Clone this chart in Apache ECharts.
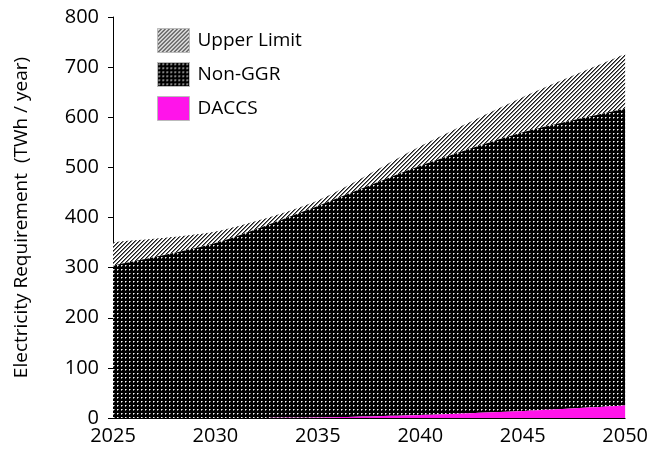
<!DOCTYPE html>
<html>
<head>
<meta charset="utf-8">
<script src="https://cdn.jsdelivr.net/npm/echarts@6/dist/echarts.min.js"></script>
<style>
  html, body { margin: 0; padding: 0; background: #fff; }
  #chart { width: 651px; height: 452px; }
</style>
</head>
<body>
<div id="chart"></div>
<script>
// Chart data
const years = ['2025', '2030', '2035', '2040', '2045', '2050']
const daccs = [0, 0, 1, 6, 14, 25]
const nonGgr = [304, 349, 422, 497, 556, 592]
const upperLimit = [47, 23, 11, 39, 70, 109]

// Fill patterns
const makeDots = () => {
  const c = document.createElement('canvas')
  c.width = 4
  c.height = 4
  const ctx = c.getContext('2d')
  ctx.fillStyle = '#000'
  ctx.fillRect(0, 0, 4, 4)
  ctx.fillStyle = '#fff'
  ctx.fillRect(1, 1, 1, 1)
  ctx.fillStyle = '#888'
  ctx.fillRect(2, 1, 1, 1)
  ctx.fillRect(1, 2, 1, 1)
  return c
}

const makeHatch = () => {
  const c = document.createElement('canvas')
  c.width = 4
  c.height = 4
  const ctx = c.getContext('2d')
  ctx.fillStyle = '#fff'
  ctx.fillRect(0, 0, 4, 4)
  ctx.fillStyle = '#1a1a1a'
  for (let i = 0; i < 4; i++) {
    ctx.fillRect(3 - i, i, 1, 1)
  }
  ctx.fillStyle = '#777'
  for (let i = 0; i < 4; i++) {
    ctx.fillRect((4 - i) % 4, i, 1, 1)
  }
  return c
}

const dotFill = { image: makeDots(), repeat: 'repeat' }
const hatchFill = { image: makeHatch(), repeat: 'repeat' }
const font = '"Open Sans", "Noto Sans", sans-serif'

const chart = echarts.init(document.getElementById('chart'))

const areaSeries = (name, data, color, z) => ({
  name,
  type: 'line',
  stack: 'total',
  data,
  smooth: 0.25,
  showSymbol: false,
  lineStyle: { width: 0 },
  itemStyle: { color },
  areaStyle: { color, opacity: 1 },
  z
})

chart.setOption({
  animation: false,
  grid: { left: 113, right: 24, top: 17, bottom: 34 },
  legend: {
    orient: 'vertical',
    left: 152,
    top: 23,
    itemWidth: 32,
    itemHeight: 24,
    itemGap: 9,
    icon: 'rect',
    data: ['Upper Limit', 'Non-GGR', 'DACCS'],
    itemStyle: { borderColor: '#bbb', borderWidth: 1 },
    textStyle: { fontFamily: font, fontSize: 19, color: '#000', padding: [0, 0, 0, 3] }
  },
  xAxis: {
    type: 'category',
    data: years,
    boundaryGap: false,
    axisLine: { lineStyle: { color: '#000', width: 1 } },
    axisTick: { show: false },
    axisLabel: { color: '#000', fontSize: 20, fontFamily: font, margin: 8 },
    splitLine: { show: false }
  },
  yAxis: {
    type: 'value',
    min: 0,
    max: 800,
    interval: 100,
    name: 'Electricity Requirement  (TWh / year)',
    nameLocation: 'middle',
    nameGap: 82,
    nameTextStyle: { color: '#000', fontSize: 19, fontFamily: font },
    axisLine: { show: true, lineStyle: { color: '#000', width: 1 } },
    axisTick: { show: true, length: 5, lineStyle: { color: '#000' } },
    axisLabel: { color: '#000', fontSize: 20, fontFamily: font, margin: 14 },
    splitLine: { show: false }
  },
  series: [
    areaSeries('DACCS', daccs, '#ff14ea', 3),
    areaSeries('Non-GGR', nonGgr, dotFill, 2),
    areaSeries('Upper Limit', upperLimit, hatchFill, 1)
  ]
})
</script>
</body>
</html>
